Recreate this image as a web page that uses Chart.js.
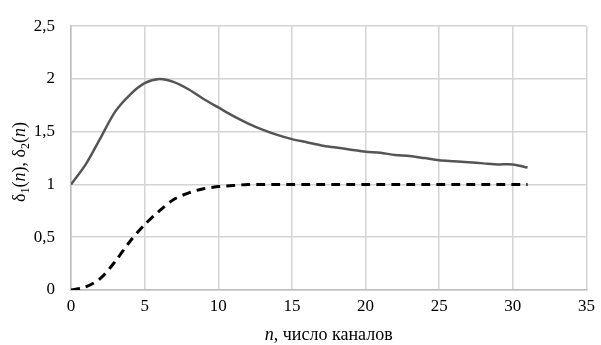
<!DOCTYPE html>
<html>
<head>
<meta charset="utf-8">
<script src="https://cdn.jsdelivr.net/npm/chart.js@4/dist/chart.umd.min.js"></script>
<style>
	html, body { margin: 0; padding: 0; background: #fff; }
	#wrap { width: 601px; height: 345px; }
</style>
</head>
<body>
<div id="wrap"><canvas id="chart" width="601" height="345"></canvas></div>
<script>
// n, число каналов
const channels = [0, 1, 2, 3, 4, 5, 6, 7, 8, 9, 10, 11, 12, 13, 14, 15, 16, 17, 18, 19, 20, 21, 22, 23, 24, 25, 26, 27, 28, 29, 30, 31];
// δ1(n) — solid gray
const delta1 = [1.0, 1.19, 1.44, 1.69, 1.85, 1.96, 2.0, 1.97, 1.9, 1.81, 1.73, 1.65, 1.58, 1.52, 1.47, 1.43, 1.4, 1.37, 1.35, 1.33, 1.31, 1.3, 1.28, 1.27, 1.25, 1.23, 1.22, 1.21, 1.2, 1.19, 1.19, 1.16];
// δ2(n) — dashed black
const delta2 = [0.0, 0.03, 0.11, 0.27, 0.46, 0.62, 0.75, 0.86, 0.92, 0.96, 0.98, 0.99, 1, 1, 1, 1, 1, 1, 1, 1, 1, 1, 1, 1, 1, 1, 1, 1, 1, 1, 1, 1];

const FONT = `"Liberation Serif", "Times New Roman", serif`;

// draws the axis titles with italic n and subscripts
const axisTitles = {
	id: `axisTitles`,
	afterDraw(chart) {
		const ctx = chart.ctx;
		const area = chart.chartArea;
		const size = 18;
		const reg = `${size}px ${FONT}`;
		const ital = `italic ${size}px ${FONT}`;
		const sub = `${Math.round(size * 0.65)}px ${FONT}`;

		const drawRuns = (runs, cx, cy) => {
			let total = 0;
			for (const r of runs) {
				ctx.font = r.font;
				r.w = ctx.measureText(r.text).width;
				total += r.w;
			};
			let x = cx - total / 2;
			for (const r of runs) {
				ctx.font = r.font;
				ctx.fillText(r.text, x, cy + (r.dy ?? 0));
				x += r.w;
			};
		};

		ctx.save();
		ctx.fillStyle = `#000`;
		ctx.textBaseline = `alphabetic`;

		drawRuns([
			{ text: `n`, font: ital },
			{ text: `, число каналов`, font: reg },
		], (area.left + area.right) / 2, 340);

		ctx.translate(25, 162);
		ctx.rotate(-Math.PI / 2);
		drawRuns([
			{ text: `δ`, font: reg },
			{ text: `1`, font: sub, dy: 4 },
			{ text: `(`, font: reg },
			{ text: `n`, font: ital },
			{ text: `), δ`, font: reg },
			{ text: `2`, font: sub, dy: 4 },
			{ text: `(`, font: reg },
			{ text: `n`, font: ital },
			{ text: `)`, font: reg },
		], 0, 0);
		ctx.restore();
	},
};

new Chart(document.getElementById(`chart`), {
	type: `line`,
	data: {
		datasets: [
			{
				label: `δ1(n)`,
				data: channels.map((n, i) => ({ x: n, y: delta1[i] })),
				borderColor: `#555555`,
				borderWidth: 2.5,
				pointRadius: 0,
				tension: 0.3,
				fill: false,
			},
			{
				label: `δ2(n)`,
				data: channels.map((n, i) => ({ x: n, y: delta2[i] })),
				borderColor: `#000000`,
				borderWidth: 3,
				borderDash: [9, 6],
				pointRadius: 0,
				tension: 0.3,
				fill: false,
			},
		],
	},
	options: {
		responsive: false,
		animation: false,
		layout: {
			padding: { top: 22, right: 9, left: 0, bottom: 0 },
		},
		plugins: {
			legend: { display: false },
			tooltip: { enabled: false },
		},
		scales: {
			x: {
				type: `linear`,
				min: 0,
				max: 35,
				ticks: {
					stepSize: 5,
					color: `#000`,
					font: { family: FONT, size: 17 },
					padding: 6,
					maxRotation: 0,
				},
				grid: { color: `#d4d4d4`, lineWidth: 1.5, drawTicks: false },
				border: { color: `#bdbdbd`, width: 1.5 },
				afterFit(scale) {
					scale.height = 55;
				},
			},
			y: {
				min: 0,
				max: 2.5,
				ticks: {
					stepSize: 0.5,
					color: `#000`,
					font: { family: FONT, size: 17 },
					padding: 16,
					callback: (v) => String(v).replace(`.`, `,`),
				},
				grid: { color: `#d4d4d4`, lineWidth: 1.5, drawTicks: false },
				border: { color: `#bdbdbd`, width: 1.5 },
				afterFit(scale) {
					scale.width = 71;
				},
			},
		},
	},
	plugins: [axisTitles],
});
</script>
</body>
</html>
